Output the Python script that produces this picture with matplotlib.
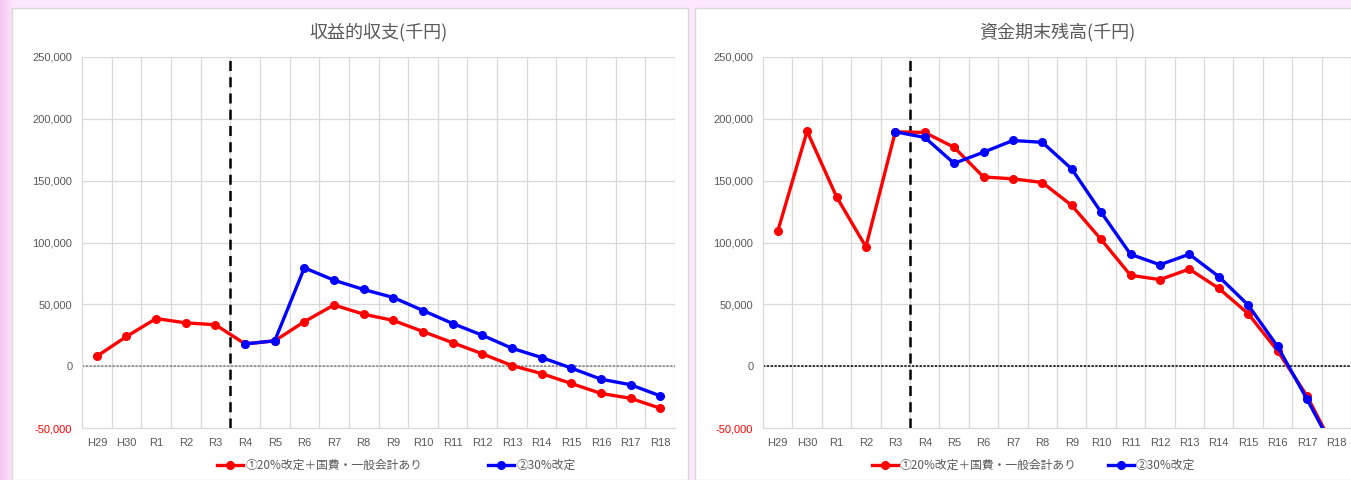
import numpy as np
import matplotlib
matplotlib.use('Agg')
import matplotlib.pyplot as plt
from matplotlib.patches import Rectangle
from matplotlib.colors import LinearSegmentedColormap
from matplotlib.ticker import FuncFormatter

plt.rcParams['font.family'] = ['Liberation Sans', 'Noto Sans CJK JP', 'DejaVu Sans']

years = ['H29', 'H30', 'R1', 'R2', 'R3', 'R4', 'R5', 'R6', 'R7', 'R8',
         'R9', 'R10', 'R11', 'R12', 'R13', 'R14', 'R15', 'R16', 'R17', 'R18']
nan = np.nan

# 収益的収支 (千円)
rev_case1 = [8000, 24000, 38500, 35000, 33500, 18000, 20500, 36000, 49500, 42000,
             37000, 28000, 19000, 10000, 500, -6000, -14000, -22000, -26000, -34000]
rev_case2 = [nan, nan, nan, nan, nan, 18000, 20500, 79500, 69500, 62000,
             55500, 45000, 34500, 25000, 14500, 7000, -1500, -10500, -15000, -24000]

# 資金期末残高 (千円)
fund_case1 = [109000, 190000, 137000, 96500, 189500, 189000, 177000, 153000, 151500, 148500,
              130000, 102500, 73500, 70000, 78500, 63000, 42500, 12500, -24000, -70000]
fund_case2 = [nan, nan, nan, nan, 189500, 185000, 164000, 173000, 182500, 181000,
              159500, 124500, 90500, 82000, 90500, 72500, 49500, 16000, -26500, -71000]

label1 = '①20%改定＋国費・一般会計あり'
label2 = '②30%改定'
titles = ['収益的収支(千円)', '資金期末残高(千円)']

W, H = 1351, 480
fig = plt.figure(figsize=(W / 100, H / 100), dpi=100)

# pink backdrop, deeper only at the far left edge
bg = fig.add_axes([0, 0, 1, 1], zorder=-10)
grad = np.concatenate([np.linspace(0, 1, 14), np.ones(1337)])[None, :]
cmap = LinearSegmentedColormap.from_list('pk', ['#f6c4f2', '#fde7fb'])
bg.imshow(grad, aspect='auto', cmap=cmap, extent=[0, 1, 0, 1])
bg.axis('off')

# white panels
for x0, x1 in [(12, 688), (695, 1352)]:
    fig.patches.append(Rectangle((x0 / W, 0), (x1 - x0) / W, 472 / H,
                                 transform=fig.transFigure, facecolor='white',
                                 edgecolor='#d9d9d9', lw=1, zorder=-5))

gray = '#595959'
grid_c = '#d9d9d9'
x = np.arange(len(years))

panels = [
    (82, 675, rev_case1, rev_case2, '#808080', 5.6, 0.53),
    (763, 1351, fund_case1, fund_case2, 'black', 2.6, 0.46),
]

for i, (px0, px1, s1, s2, zc, colsp, legx) in enumerate(panels):
    ax = fig.add_axes([px0 / W, 1 - 428 / H, (px1 - px0) / W, 371 / H])
    ax.set_facecolor('none')
    ax.set_xlim(-0.5, len(years) - 0.5)
    ax.set_ylim(-50000, 250000)
    ax.set_yticks(np.arange(-50000, 250001, 50000))
    ax.yaxis.set_major_formatter(FuncFormatter(lambda v, p: f'{int(v):,}'))
    ax.set_xticks(x)
    ax.set_xticklabels(years)
    ax.set_xticks(np.arange(-0.5, len(years), 1), minor=True)
    ax.grid(axis='y', which='major', color=grid_c, lw=0.9)
    ax.grid(axis='x', which='minor', color=grid_c, lw=0.9)
    ax.tick_params(which='both', length=0, labelsize=8, colors=gray, pad=7)
    for s in ['top', 'right']:
        ax.spines[s].set_visible(False)
    for s in ['left', 'bottom']:
        ax.spines[s].set_color(grid_c)
    ax.set_axisbelow(True)
    ax.get_yticklabels()[0].set_color('red')

    ax.axhline(0, color=zc, ls=(0, (1.5, 1)), lw=1.1, zorder=2)
    ax.axvline(4.5, color='black', ls=(0, (4, 2.5)), lw=1.8, zorder=2)

    ax.plot(x, s1, color='red', lw=2.4, marker='o', ms=5.5, label=label1, zorder=3)
    ax.plot(x, s2, color='blue', lw=2.4, marker='o', ms=5.5, label=label2, zorder=4)

    ax.set_title(titles[i], fontsize=13, color=gray, pad=14,
                 family=['Noto Sans CJK JP', 'DejaVu Sans'])
    leg = ax.legend(loc='upper center', bbox_to_anchor=(legx, -0.055), ncol=2,
                    frameon=False, columnspacing=colsp, handlelength=2.2,
                    handletextpad=0.2, prop={'family': ['Noto Sans CJK JP', 'DejaVu Sans'],
                                             'size': 8.5})
    for t in leg.get_texts():
        t.set_color(gray)

fig.savefig('out.png', dpi=100)
